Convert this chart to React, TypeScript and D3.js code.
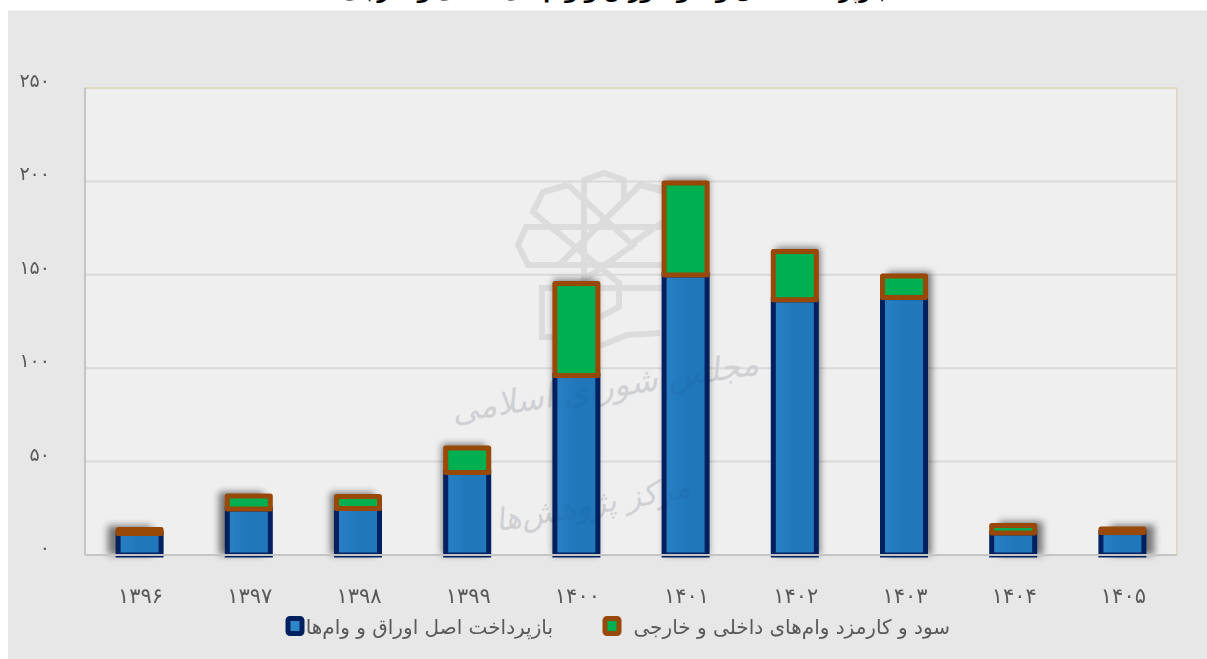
import React from "react";
import * as d3 from "d3";

// Repayment of domestic and foreign debt, by year
const years = ["۱۳۹۶", "۱۳۹۷", "۱۳۹۸", "۱۳۹۹", "۱۴۰۰", "۱۴۰۱", "۱۴۰۲", "۱۴۰۳", "۱۴۰۴", "۱۴۰۵"];
const principal = [11.5, 24.6, 24.9, 44.2, 96.1, 149.9, 136.6, 137.8, 11.8, 12];
const interest = [2.1, 7, 6.4, 13.1, 49.2, 49.2, 25.9, 11.5, 4, 1.9];
const yTicks = [0, 50, 100, 150, 200, 250];
const yTickLabels = ["۰", "۵۰", "۱۰۰", "۱۵۰", "۲۰۰", "۲۵۰"];
const legendPrincipal = "بازپرداخت اصل اوراق و وام‌ها";
const legendInterest = "سود و کارمزد وام‌های داخلی و خارجی";
const titleText = "بازپرداخت اصل و سود اوراق و وام‌های داخلی و خارجی";
const stampLineOne = "مجلس شورای اسلامی";
const stampLineTwo = "مرکز پژوهش‌ها";

const W = 1207;
const H = 659;
const plot = { left: 85, right: 1177, top: 88, bottom: 555 };
const FONT = "'DejaVu Sans', sans-serif";

const y = d3.scaleLinear().domain([0, 250]).range([plot.bottom, plot.top]);
const band = d3.scaleBand<string>().domain(years).range([plot.left, plot.right]);
const barW = 43;
const centerOf = (k: string) => (band(k) as number) + band.bandwidth() / 2;
const shadowShift = d3.scaleLinear().domain([plot.left, plot.right]).range([-11, 11]);

// Interlaced octagonal emblem, traced stroke by stroke around its star centre
const emblemCentre = { x: 604, y: 245 };
const emblemStrokes: [number, number][][] = [
  [[-20, 28], [-20, -65], [0, -72], [20, -65], [20, -43]],
  [[57, -57], [36, -60], [-45, 20]],
  [[-36, -60], [29, 0], [-20, 35]],
  [[-36, -60], [-61, -53], [-71, -33], [-58, -22], [15, 38]],
  [[36, -60], [61, -53], [71, -33], [58, -22], [25, 0]],
  [[70, -18], [-78, -18], [-86, 0], [-76, 20], [70, 20]],
  [[70, -18], [86, 0], [70, 20]],
  [[-20, 20], [-20, 43]],
  [[15, 36], [15, 62], [-4, 72]],
  [[70, 43], [-62, 43], [-62, 92], [-30, 92]],
  [[-4, 101], [23, 90], [56, 88]],
];
const strokeLine = d3.line();

function Emblem() {
  return (
    <g
      transform={`translate(${emblemCentre.x},${emblemCentre.y})`}
      fill="none"
      stroke="#DCDCDC"
      strokeWidth={6}
    >
      {emblemStrokes.map((s, i) => (
        <path key={i} d={strokeLine(s) as string} />
      ))}
    </g>
  );
}

function Stamp({ fill, opacity }: { fill: string; opacity: number }) {
  return (
    <g fill={fill} opacity={opacity} fontFamily={FONT} direction="rtl" textAnchor="start">
      <text transform="translate(760,374) rotate(-9) skewX(-14)" fontSize={33}>{stampLineOne}</text>
      <text transform="translate(692,497) rotate(-10) skewX(-14)" fontSize={31}>{stampLineTwo}</text>
    </g>
  );
}

export default function App() {
  return (
    <svg
      width={W}
      height={H}
      viewBox={`0 0 ${W} ${H}`}
      style={{ position: "fixed", left: 0, top: 0, display: "block", background: "#fff" }}
    >
      <defs>
        <filter id="barShadow" x="-60%" y="-60%" width="220%" height="220%">
          <feGaussianBlur stdDeviation={3.5} />
        </filter>
        <linearGradient id="blueFill" x1="0" x2="1" y1="0" y2="0">
          <stop offset="0" stopColor="#2A80C4" />
          <stop offset="0.5" stopColor="#2077BA" />
          <stop offset="1" stopColor="#2077BA" />
        </linearGradient>
      </defs>

      {/* Title sits mostly above the top edge */}
      <text x={614} y={-2} textAnchor="middle" direction="rtl" fontFamily={FONT} fontWeight="bold" fontSize={20} fill="#000">
        {titleText}
      </text>

      <rect x={8} y={10} width={W - 8} height={H - 10} fill="#E7E7E7" />
      <rect x={8} y={10} width={W - 8} height={1} fill="#EFEFEF" />
      <rect x={plot.left} y={plot.top} width={plot.right - plot.left} height={plot.bottom - plot.top} fill="#EFEFEF" />

      <Emblem />

      {yTicks.filter((t) => t > 0 && t < 250).map((t) => (
        <line key={t} x1={plot.left} x2={plot.right} y1={y(t)} y2={y(t)} stroke="#D9D9D9" strokeWidth={2} />
      ))}

      <Stamp fill="#DADADA" opacity={1} />

      <line x1={plot.left} x2={plot.right} y1={plot.top} y2={plot.top} stroke="#DDD9C3" strokeWidth={2} />
      <line x1={plot.right} x2={plot.right} y1={plot.top} y2={plot.bottom} stroke="#DDD9C3" strokeWidth={2} />
      <line x1={plot.left} x2={plot.left} y1={plot.top} y2={plot.bottom} stroke="#C4C4C4" strokeWidth={2} />

      {/* Soft shadows, pushed outward from the middle of the plot */}
      {years.map((yr, i) => {
        const c = centerOf(yr);
        const top = y(principal[i] + interest[i]);
        return (
          <rect
            key={yr}
            x={c - barW / 2 - 0.5 + shadowShift(c)}
            y={top - 4}
            width={barW + 1}
            height={plot.bottom - top + 4}
            fill="#000"
            opacity={0.5}
            filter="url(#barShadow)"
          />
        );
      })}

      {years.map((yr, i) => {
        const c = centerOf(yr);
        return (
          <rect
            key={yr}
            x={c - barW / 2}
            y={y(principal[i])}
            width={barW}
            height={y(0) - y(principal[i])}
            fill="url(#blueFill)"
            stroke="#002060"
            strokeWidth={5}
          />
        );
      })}
      {years.map((yr, i) => {
        const c = centerOf(yr);
        const top = y(principal[i] + interest[i]);
        return (
          <rect
            key={yr}
            x={c - barW / 2}
            y={top}
            width={barW}
            height={y(principal[i]) - top}
            fill="#00B050"
            stroke="#984807"
            strokeWidth={5}
            strokeLinejoin="round"
          />
        );
      })}

      <line x1={plot.left} x2={plot.right} y1={plot.bottom} y2={plot.bottom} stroke="#C4C4C4" strokeWidth={2} />

      <Stamp fill="#002060" opacity={0.05} />

      <g fontFamily={FONT} fill="#595959">
        {yTicks.map((t, i) => (
          <text key={t} x={50} y={y(t) - 1} textAnchor="end" fontSize={19} letterSpacing={3}>
            {yTickLabels[i]}
          </text>
        ))}
        {years.map((yr) => (
          <text key={yr} x={centerOf(yr) + 1} y={603} textAnchor="middle" fontSize={21} letterSpacing={2.5}>
            {yr}
          </text>
        ))}
      </g>

      <g>
        <rect x={288} y={618.5} width={14} height={15} rx={2} fill="#2E86CA" stroke="#002060" strokeWidth={5} strokeLinejoin="round" />
        <text x={553} y={634} direction="rtl" textAnchor="start" fontFamily={FONT} fontSize={20} fill="#595959">
          {legendPrincipal}
        </text>
        <rect x={605} y={618.5} width={14} height={15} rx={2} fill="#00B050" stroke="#984807" strokeWidth={5} strokeLinejoin="round" />
        <text x={950} y={634} direction="rtl" textAnchor="start" fontFamily={FONT} fontSize={20} fill="#595959">
          {legendInterest}
        </text>
      </g>
    </svg>
  );
}
